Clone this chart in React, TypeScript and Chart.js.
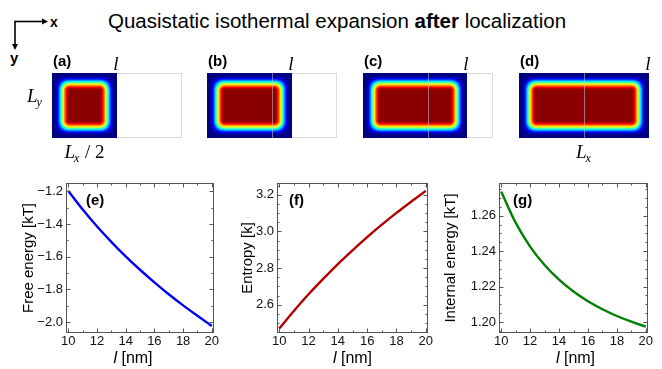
import React, { useEffect, useRef } from 'react';
import { Chart, registerables } from 'chart.js';

Chart.register(...registerables);

// ---------------- data ----------------
const lengthNm = [10, 11, 12, 13, 14, 15, 16, 17, 18, 19, 20];
const freeEnergyKT = [-1.196, -1.31, -1.414, -1.509, -1.598, -1.68, -1.757, -1.83, -1.898, -1.962, -2.024];
const entropyK = [2.47, 2.566, 2.657, 2.741, 2.822, 2.897, 2.969, 3.037, 3.101, 3.162, 3.221];
const internalEnergyKT = [1.2737, 1.2561, 1.2426, 1.2322, 1.2239, 1.2172, 1.2117, 1.2072, 1.2034, 1.2002, 1.1974];

const lengthTicks = [10, 12, 14, 16, 18, 20];
const freeEnergyTicks = [-2.0, -1.8, -1.6, -1.4, -1.2];
const entropyTicks = [2.6, 2.8, 3.0, 3.2];
const internalEnergyTicks = [1.2, 1.22, 1.24, 1.26];

const panelTags = ['(a)', '(b)', '(c)', '(d)'];
const boxLengthNm = [10, 13, 16, 20];
const boxWidthNm = 20; // L_x
const boxHeightNm = 10; // L_y

// ---------------- styles ----------------
const SANS = "'Liberation Sans', Arial, sans-serif";
const SERIF = "'Liberation Serif', 'Times New Roman', serif";
const RAMP_START_NM = 0.35;
const RAMP_END_NM = 2.7;
const PEAK = 0.99;

function jet(v: number): [number, number, number] {
  const c = (t: number) => Math.max(0, Math.min(1, t));
  return [
    Math.round(c(1.5 - Math.abs(4 * v - 3)) * 255),
    Math.round(c(1.5 - Math.abs(4 * v - 2)) * 255),
    Math.round(c(1.5 - Math.abs(4 * v - 1)) * 255),
  ];
}

function ramp(d: number, a: number, b: number) {
  const t = Math.max(0, Math.min(1, (d - a) / (b - a)));
  return t * t * (3 - 2 * t);
}

function drawLabelL(ctx: CanvasRenderingContext2D, cx: number, baseline: number, sub: string, suffix: string) {
  ctx.save();
  const fBig = `italic 19px ${SERIF}`;
  const fSub = `italic 12px ${SERIF}`;
  const fSuf = `19px ${SERIF}`;
  ctx.font = fBig;
  const wL = ctx.measureText('L').width;
  ctx.font = fSub;
  const wS = ctx.measureText(sub).width;
  ctx.font = fSuf;
  const wX = suffix ? ctx.measureText(suffix).width : 0;
  let x = cx - (wL + wS + wX) / 2;
  ctx.fillStyle = '#000';
  ctx.textBaseline = 'alphabetic';
  ctx.textAlign = 'left';
  ctx.font = fBig;
  ctx.fillText('L', x, baseline);
  x += wL;
  ctx.font = fSub;
  ctx.fillText(sub, x - 1, baseline + 4);
  x += wS;
  if (suffix) {
    ctx.font = fSuf;
    ctx.fillText(suffix, x, baseline);
  }
  ctx.restore();
}

const heatPlugin = {
  id: 'heatBox',
  afterDraw(chart: any, _args: any, o: any) {
    const { ctx } = chart;
    const xs = chart.scales.x;
    const ys = chart.scales.y;
    const left = Math.round(xs.getPixelForValue(0));
    const right = Math.round(xs.getPixelForValue(o.length));
    const full = Math.round(xs.getPixelForValue(boxWidthNm));
    const top = Math.round(ys.getPixelForValue(boxHeightNm));
    const bottom = Math.round(ys.getPixelForValue(0));
    // outline of full box
    ctx.save();
    ctx.strokeStyle = '#dcdcdc';
    ctx.lineWidth = 1;
    ctx.strokeRect(left + 0.5, top + 0.5, full - left - 1, bottom - top - 1);
    ctx.restore();
    // density map
    const w = right - left;
    const h = bottom - top;
    const pxPerNm = w / o.length;
    const a = RAMP_START_NM * pxPerNm;
    const b = RAMP_END_NM * pxPerNm;
    const img = ctx.createImageData(w, h);
    for (let j = 0; j < h; j++) {
      const dy = Math.min(j + 0.5, h - j - 0.5);
      const gy = ramp(dy, a, b);
      for (let i = 0; i < w; i++) {
        const dx = Math.min(i + 0.5, w - i - 0.5);
        const v = PEAK * gy * ramp(dx, a, b);
        const [r, g, bl] = jet(v);
        const k = (j * w + i) * 4;
        img.data[k] = r;
        img.data[k + 1] = g;
        img.data[k + 2] = bl;
        img.data[k + 3] = 255;
      }
    }
    ctx.putImageData(img, left, top);
    ctx.save();
    // middle partition line
    if (o.length > boxWidthNm / 2) {
      const mx = Math.round(xs.getPixelForValue(boxWidthNm / 2)) + 0.5;
      ctx.strokeStyle = 'rgba(200,200,200,0.55)';
      ctx.lineWidth = 1;
      ctx.beginPath();
      ctx.moveTo(mx, top);
      ctx.lineTo(mx, bottom);
      ctx.stroke();
    }
    // tag
    ctx.fillStyle = '#000';
    ctx.font = `bold 15px ${SANS}`;
    ctx.textAlign = 'left';
    ctx.textBaseline = 'alphabetic';
    ctx.fillText(o.tag, left + 1, top - 7);
    // l label
    ctx.font = `italic 19px ${SERIF}`;
    ctx.textAlign = 'center';
    ctx.fillText('l', right - 1, top - 3);
    ctx.restore();
    if (o.showLy) {
      drawLabelL(ctx, left - 17, (top + bottom) / 2 - 4, 'y', '');
    }
    if (o.bottom === 'half') {
      drawLabelL(ctx, (left + right) / 2, bottom + 20, 'x', ' / 2');
    } else if (o.bottom === 'full') {
      drawLabelL(ctx, (left + full) / 2, bottom + 20, 'x', '');
    }
  },
};

function heatConfig(i: number): any {
  return {
    type: 'scatter',
    data: { datasets: [] },
    options: {
      animation: false,
      responsive: false,
      maintainAspectRatio: false,
      events: [],
      layout: { padding: { left: 50, right: 10, top: 28, bottom: 32 } },
      plugins: {
        legend: { display: false },
        tooltip: { enabled: false },
        heatBox: {
          length: boxLengthNm[i],
          tag: panelTags[i],
          showLy: i === 0,
          bottom: i === 0 ? 'half' : i === 3 ? 'full' : null,
        },
      },
      scales: {
        x: { type: 'linear', min: 0, max: boxWidthNm, display: false },
        y: { type: 'linear', min: 0, max: boxHeightNm, display: false },
      },
    },
    plugins: [heatPlugin],
  };
}

function isMultiple(v: number, step: number) {
  const q = v / step;
  return Math.abs(q - Math.round(q)) < 1e-6;
}

const framePlugin = {
  id: 'frameTicks',
  afterDatasetsDraw(chart: any, _args: any, o: any) {
    const { ctx, chartArea: ca } = chart;
    const xs = chart.scales.x;
    const ys = chart.scales.y;
    const L = Math.round(ca.left) + 0.5;
    const R = Math.round(ca.right) - 0.5;
    const T = Math.round(ca.top) + 0.5;
    const B = Math.round(ca.bottom) - 0.5;
    ctx.save();
    ctx.strokeStyle = '#555';
    ctx.lineWidth = 1;
    ctx.strokeRect(L, T, R - L, B - T);
    ctx.beginPath();
    const MAJ = 4;
    const MIN = 2;
    const x0 = Math.ceil(xs.min / o.xMinor - 1e-9);
    const x1 = Math.floor(xs.max / o.xMinor + 1e-9);
    for (let k = x0; k <= x1; k++) {
      const v = k * o.xMinor;
      const len = isMultiple(v, o.xMajor) ? MAJ : MIN;
      const px = Math.round(xs.getPixelForValue(v)) + 0.5;
      ctx.moveTo(px, B);
      ctx.lineTo(px, B - len);
      ctx.moveTo(px, T);
      ctx.lineTo(px, T + len);
    }
    const y0 = Math.ceil(ys.min / o.yMinor - 1e-9);
    const y1 = Math.floor(ys.max / o.yMinor + 1e-9);
    for (let k = y0; k <= y1; k++) {
      const v = k * o.yMinor;
      const len = isMultiple(v, o.yMajor) ? MAJ : MIN;
      const py = Math.round(ys.getPixelForValue(v)) + 0.5;
      ctx.moveTo(L, py);
      ctx.lineTo(L + len, py);
      ctx.moveTo(R, py);
      ctx.lineTo(R - len, py);
    }
    ctx.stroke();
    // panel tag
    ctx.fillStyle = '#000';
    ctx.font = `bold 15px ${SANS}`;
    ctx.textAlign = 'left';
    ctx.textBaseline = 'middle';
    ctx.fillText(o.tag, ca.left + o.tagDx, ca.top + 18);
    // x title: italic l + [nm]
    const cx = (ca.left + ca.right) / 2 + o.xTitleDx;
    const by = ca.bottom + 30;
    ctx.textBaseline = 'alphabetic';
    ctx.font = `italic 16px ${SANS}`;
    const wl = ctx.measureText('l').width;
    ctx.font = `16px ${SANS}`;
    const wr = ctx.measureText(' [nm]').width;
    const x = cx - (wl + wr) / 2;
    ctx.font = `italic 16px ${SANS}`;
    ctx.fillText('l', x, by);
    ctx.font = `16px ${SANS}`;
    ctx.fillText(' [nm]', x + wl, by);
    // y title
    ctx.save();
    ctx.translate(ca.left - o.yTitleDx, (ca.top + ca.bottom) / 2);
    ctx.rotate(-Math.PI / 2);
    ctx.textAlign = 'center';
    ctx.textBaseline = 'middle';
    ctx.font = `15px ${SANS}`;
    ctx.fillText(o.yTitle, 0, 0);
    ctx.restore();
    ctx.restore();
  },
};

interface LineSpec {
  values: number[];
  color: string;
  yMin: number;
  yMax: number;
  yTicks: number[];
  yMajor: number;
  yMinor: number;
  decimals: number;
  yTitle: string;
  tag: string;
  tagDx: number;
  yAxisW: number;
  padRight: number;
  yTitleDx: number;
  xTitleDx: number;
}

function lineConfig(s: LineSpec): any {
  return {
    type: 'line',
    data: {
      datasets: [
        {
          data: lengthNm.map((x, i) => ({ x, y: s.values[i] })),
          borderColor: s.color,
          borderWidth: 2.4,
          pointRadius: 0,
          tension: 0.4,
          cubicInterpolationMode: 'monotone',
          fill: false,
        },
      ],
    },
    options: {
      animation: false,
      responsive: false,
      maintainAspectRatio: false,
      events: [],
      layout: { padding: { left: 0, right: s.padRight, top: 13, bottom: 0 } },
      plugins: {
        legend: { display: false },
        tooltip: { enabled: false },
        frameTicks: {
          xMajor: 2,
          xMinor: 1,
          yMajor: s.yMajor,
          yMinor: s.yMinor,
          tag: s.tag,
          tagDx: s.tagDx,
          yTitle: s.yTitle,
          yTitleDx: s.yTitleDx,
          xTitleDx: s.xTitleDx,
        },
      },
      scales: {
        x: {
          type: 'linear',
          min: 9.85,
          max: 20.15,
          grid: { display: false, drawTicks: false },
          border: { display: false },
          ticks: {
            font: { family: SANS, size: 13 },
            color: '#111',
            padding: 1,
            maxRotation: 0,
            autoSkip: false,
            callback: (v: number) => String(v),
          },
          afterBuildTicks: (sc: any) => {
            sc.ticks = lengthTicks.map((value) => ({ value }));
          },
          afterFit: (sc: any) => {
            sc.height = 36;
            sc.paddingLeft = 0;
            sc.paddingRight = 0;
          },
        },
        y: {
          type: 'linear',
          min: s.yMin,
          max: s.yMax,
          grid: { display: false, drawTicks: false },
          border: { display: false },
          ticks: {
            font: { family: SANS, size: 13 },
            color: '#111',
            padding: 3,
            autoSkip: false,
            callback: (v: number) => v.toFixed(s.decimals).replace('-', '\u2212'),
          },
          afterBuildTicks: (sc: any) => {
            sc.ticks = s.yTicks.map((value) => ({ value }));
          },
          afterFit: (sc: any) => {
            sc.width = s.yAxisW;
            sc.paddingTop = 0;
            sc.paddingBottom = 0;
          },
        },
      },
    },
    plugins: [framePlugin],
  };
}

const lineSpecs: { left: number; width: number; spec: LineSpec }[] = [
  {
    left: 0,
    width: 220,
    spec: {
      values: freeEnergyKT,
      color: '#0000f0',
      yMin: -2.067,
      yMax: -1.149,
      yTicks: freeEnergyTicks,
      yMajor: 0.2,
      yMinor: 0.1,
      decimals: 1,
      yTitle: 'Free energy [kT]',
      tag: '(e)',
      tagDx: 20,
      yAxisW: 66,
      padRight: 6,
      yTitleDx: 37,
      xTitleDx: -7,
    },
  },
  {
    left: 220,
    width: 220,
    spec: {
      values: entropyK,
      color: '#b00000',
      yMin: 2.446,
      yMax: 3.264,
      yTicks: entropyTicks,
      yMajor: 0.2,
      yMinor: 0.05,
      decimals: 1,
      yTitle: 'Entropy [k]',
      tag: '(f)',
      tagDx: 12,
      yAxisW: 57,
      padRight: 12,
      yTitleDx: 29,
      xTitleDx: 0,
    },
  },
  {
    left: 440,
    width: 222,
    spec: {
      values: internalEnergyKT,
      color: '#008000',
      yMin: 1.1938,
      yMax: 1.2785,
      yTicks: internalEnergyTicks,
      yMajor: 0.02,
      yMinor: 0.005,
      decimals: 2,
      yTitle: 'Internal energy [kT]',
      tag: '(g)',
      tagDx: 14,
      yAxisW: 59,
      padRight: 14,
      yTitleDx: 48,
      xTitleDx: 2,
    },
  },
];

function ChartCanvas(props: { left: number; top: number; width: number; height: number; make: () => any }) {
  const ref = useRef<HTMLCanvasElement>(null);
  useEffect(() => {
    const chart = new Chart(ref.current as HTMLCanvasElement, props.make());
    return () => chart.destroy();
  }, []);
  return (
    <canvas
      ref={ref}
      width={props.width}
      height={props.height}
      style={{ position: 'absolute', left: props.left, top: props.top, width: props.width, height: props.height }}
    />
  );
}

const heatLefts = [2, 157, 313, 469];

export default function App() {
  return (
    <div
      style={{
        position: 'fixed',
        left: 0,
        top: 0,
        width: 662,
        height: 369,
        background: '#fff',
        overflow: 'hidden',
        fontFamily: SANS,
      }}
    >
      <svg width={70} height={70} style={{ position: 'absolute', left: 0, top: 0 }}>
        <line x1={15} y1={21.5} x2={44} y2={21.5} stroke="#000" strokeWidth={1.6} />
        <polygon points="48,21.5 42,18.5 42,24.5" fill="#000" />
        <line x1={15} y1={20.7} x2={15} y2={46} stroke="#000" strokeWidth={1.6} />
        <polygon points="15,50 12,44 18,44" fill="#000" />
        <text x={50} y={27} fontFamily={SANS} fontWeight="bold" fontSize={14} fill="#000">
          x
        </text>
        <text x={10} y={63} fontFamily={SANS} fontWeight="bold" fontSize={15} fill="#000">
          y
        </text>
      </svg>
      <div
        style={{
          position: 'absolute',
          left: 108,
          top: 10,
          fontSize: 20.5,
          lineHeight: '22px',
          whiteSpace: 'nowrap',
          color: '#000',
        }}
      >
        Quasistatic isothermal expansion <b>after</b> localization
      </div>
      {heatLefts.map((left, i) => (
        <ChartCanvas key={'h' + i} left={left} top={45} width={190} height={125} make={() => heatConfig(i)} />
      ))}
      {lineSpecs.map((ls, i) => (
        <ChartCanvas key={'l' + i} left={ls.left} top={170} width={ls.width} height={199} make={() => lineConfig(ls.spec)} />
      ))}
    </div>
  );
}
